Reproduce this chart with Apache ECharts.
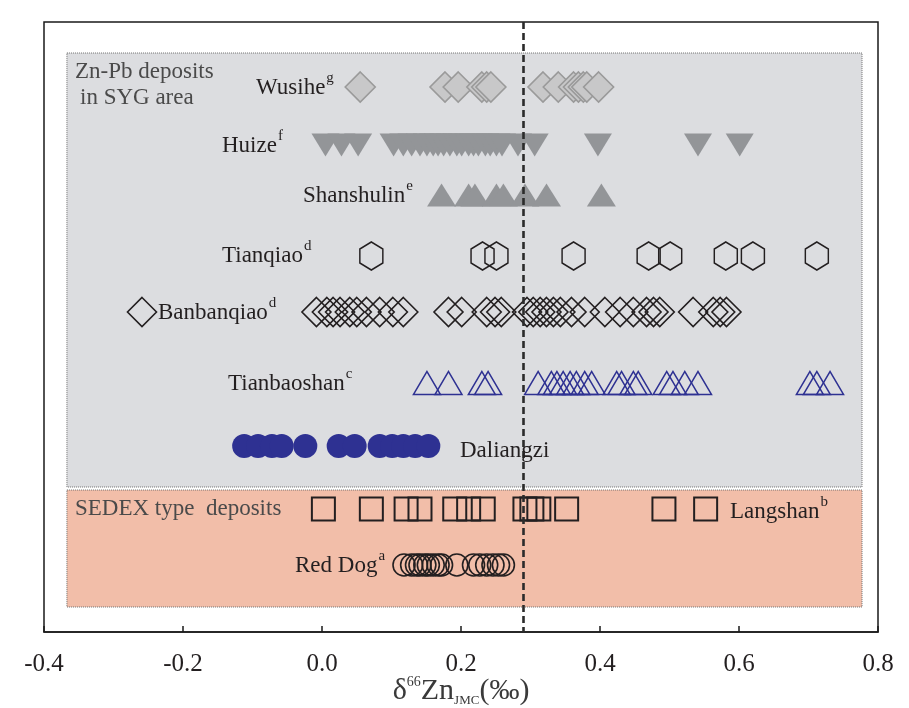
<!DOCTYPE html>
<html>
<head>
<meta charset="utf-8">
<script src="https://cdn.jsdelivr.net/npm/echarts@6/dist/echarts.min.js"></script>
<style>
  html, body { margin: 0; padding: 0; background: #ffffff; }
  #chart { width: 909px; height: 708px; }
</style>
</head>
<body>
<div id="chart"></div>
<script>
// δ66Zn values (‰, JMC) for each deposit
const wusihe = [0.055, 0.177, 0.196, 0.230, 0.237, 0.243, 0.318, 0.340, 0.362, 0.369, 0.376, 0.381, 0.398];
const huize = [0.005, 0.028, 0.052, 0.103, 0.117, 0.129, 0.141, 0.151, 0.160, 0.167, 0.175, 0.184, 0.194, 0.201,
  0.211, 0.218, 0.225, 0.235, 0.242, 0.251, 0.259, 0.282, 0.306, 0.397, 0.541, 0.601];
const shanshulin = [0.172, 0.211, 0.220, 0.251, 0.261, 0.292, 0.323, 0.402];
const tianqiao = [0.071, 0.231, 0.251, 0.362, 0.470, 0.501, 0.581, 0.620, 0.712];
const banbanqiao = [-0.259, -0.008, 0.007, 0.016, 0.026, 0.040, 0.050, 0.064, 0.083, 0.102, 0.117,
  0.182, 0.201, 0.237, 0.249, 0.258, 0.295, 0.304, 0.314, 0.323, 0.333, 0.343, 0.359, 0.378,
  0.407, 0.429, 0.448, 0.467, 0.477, 0.486, 0.534, 0.563, 0.573, 0.582];
const tianbaoshan = [0.151, 0.182, 0.230, 0.239, 0.311, 0.330, 0.338, 0.347, 0.357, 0.366, 0.378, 0.388,
  0.424, 0.431, 0.448, 0.455, 0.496, 0.505, 0.522, 0.541, 0.702, 0.712, 0.731];
const daliangzi = [-0.112, -0.092, -0.072, -0.058, -0.024, 0.024, 0.047, 0.083, 0.101, 0.117, 0.134, 0.153];
const langshan = [0.002, 0.071, 0.121, 0.141, 0.191, 0.211, 0.232, 0.292, 0.302, 0.312, 0.352, 0.492, 0.552];
const redDog = [0.118, 0.129, 0.136, 0.141, 0.148, 0.153, 0.160, 0.167, 0.172, 0.194, 0.218, 0.227,
  0.237, 0.246, 0.254, 0.261];

// reference value (dashed line) and x-axis ticks
const refValue = 0.292;
const xTicks = [-0.4, -0.2, 0.0, 0.2, 0.4, 0.6, 0.8];

// vertical layout: row levels on a hidden 0..610 axis (top = 0)
const rowLevel = {
  wusihe: 65, huize: 123, shanshulin: 173, tianqiao: 234, banbanqiao: 290,
  tianbaoshan: 361, daliangzi: 424, langshan: 487, redDog: 543
};
const groupBoxes = {
  syg: { x: [-0.367, 0.777], y: [31, 465], color: '#dcdde0' },
  sedex: { x: [-0.367, 0.777], y: [468, 585], color: '#f2bea9' }
};

const SERIF = '"Liberation Serif", "Times New Roman", serif';
const HEX = 'path://M10,0 L20,6 L20,18 L10,24 L0,18 L0,6 Z';

function row(values, level) {
  return values.map(v => [v, level]);
}

function scatter(name, values, level, symbol, size, style, extra) {
  return Object.assign({
    name: name,
    type: 'scatter',
    data: row(values, level),
    symbol: symbol,
    symbolSize: size,
    itemStyle: Object.assign({ opacity: 1 }, style),
    z: 3,
    silent: true,
    emphasis: { disabled: true }
  }, extra || {});
}

const outlineBlack = { color: 'rgba(0,0,0,0)', borderColor: '#231f20', borderWidth: 1.6 };

const series = [
  {
    type: 'scatter',
    data: [],
    z: 1,
    silent: true,
    markArea: {
      silent: true,
      data: Object.values(groupBoxes).map(b => [
        { xAxis: b.x[0], yAxis: b.y[0], itemStyle: { color: b.color, opacity: 1, borderColor: '#6d6d6d', borderWidth: 1, borderType: [1, 1] } },
        { xAxis: b.x[1], yAxis: b.y[1] }
      ])
    }
  },
  scatter('Wusihe', wusihe, rowLevel.wusihe, 'diamond', 30,
    { color: '#c8c8c9', borderColor: '#9a9a9a', borderWidth: 1.6 }),
  scatter('Huize', huize, rowLevel.huize, 'triangle', [28, 23],
    { color: '#939598' }, { symbolRotate: 180 }),
  scatter('Shanshulin', shanshulin, rowLevel.shanshulin, 'triangle', [29, 23],
    { color: '#939598' }),
  scatter('Tianqiao', tianqiao, rowLevel.tianqiao, HEX, [23, 28], outlineBlack),
  scatter('Banbanqiao', banbanqiao, rowLevel.banbanqiao, 'diamond', 29, outlineBlack),
  scatter('Tianbaoshan', tianbaoshan, rowLevel.tianbaoshan, 'triangle', [27, 23],
    { color: 'rgba(0,0,0,0)', borderColor: '#2e3192', borderWidth: 1.5 }),
  scatter('Daliangzi', daliangzi, rowLevel.daliangzi, 'circle', 24,
    { color: '#2e3192' }),
  scatter('Langshan', langshan, rowLevel.langshan, 'rect', 23,
    { color: 'rgba(0,0,0,0)', borderColor: '#231f20', borderWidth: 2 }),
  scatter('Red Dog', redDog, rowLevel.redDog, 'circle', 22, outlineBlack),
  {
    type: 'scatter',
    data: [],
    z: 5,
    silent: true,
    markLine: {
      silent: true,
      symbol: 'none',
      label: { show: false },
      lineStyle: { color: '#2b2b2b', width: 2.6, type: [7, 4] },
      data: [{ xAxis: refValue }]
    }
  }
];

// text measurement for placing superscripts right after a name
const measureCtx = document.createElement('canvas').getContext('2d');
function textWidth(text, size) {
  measureCtx.font = size + 'px ' + SERIF;
  return measureCtx.measureText(text).width;
}

const LABEL_SIZE = 23;
const SUP_SIZE = 15;
function label(text, sup, x, y, color) {
  const c = color || '#231f20';
  const items = [{
    type: 'text', x: x, y: y, z: 10, silent: true,
    style: { text: text, fontFamily: SERIF, fontSize: LABEL_SIZE, fill: c, align: 'left', verticalAlign: 'middle' }
  }];
  if (sup) {
    items.push({
      type: 'text', x: x + textWidth(text, LABEL_SIZE) + 1, y: y - 10, z: 10, silent: true,
      style: { text: sup, fontFamily: SERIF, fontSize: SUP_SIZE, fill: c, align: 'left', verticalAlign: 'middle' }
    });
  }
  return items;
}

const chart = echarts.init(document.getElementById('chart'), null, { renderer: 'canvas' });

chart.setOption({
  animation: false,
  backgroundColor: '#ffffff',
  grid: {
    left: 44, right: 31, top: 22, bottom: 76,
    outerBoundsMode: 'none',
    containLabel: false,
    show: true, borderColor: '#1a1a1a', borderWidth: 1.5, backgroundColor: 'transparent'
  },
  xAxis: {
    type: 'value',
    min: xTicks[0], max: xTicks[xTicks.length - 1], interval: 0.2,
    axisLine: { show: true, onZero: false, lineStyle: { color: '#1a1a1a', width: 1.5 } },
    axisTick: { show: true, inside: true, length: 6, lineStyle: { color: '#1a1a1a', width: 1.5 } },
    splitLine: { show: false },
    axisLabel: {
      margin: 20, color: '#231f20', fontFamily: SERIF, fontSize: 25,
      formatter: v => v.toFixed(1)
    },
    name: '{a|δ}{sup|66}{a|Zn}{sub|JMC}{a|(‰)}',
    nameLocation: 'middle',
    nameGap: 43,
    nameMoveOverlap: false,
    nameTextStyle: {
      rich: {
        a: { fontFamily: SERIF, fontSize: 30, color: '#3a3a3a', lineHeight: 32 },
        sup: { fontFamily: SERIF, fontSize: 14, color: '#3a3a3a', verticalAlign: 'top', lineHeight: 30 },
        sub: { fontFamily: SERIF, fontSize: 13, color: '#3a3a3a', verticalAlign: 'bottom', lineHeight: 26 }
      }
    }
  },
  yAxis: {
    type: 'value', min: 0, max: 610, inverse: true, show: false
  },
  series: series,
  graphic: [].concat(
    label('Zn-Pb deposits', null, 75, 72, '#4a4a4a'),
    label('in SYG area', null, 80, 98, '#4a4a4a'),
    label('Wusihe', 'g', 256, 88),
    label('Huize', 'f', 222, 146),
    label('Shanshulin', 'e', 303, 196),
    label('Tianqiao', 'd', 222, 256),
    label('Banbanqiao', 'd', 158, 313),
    label('Tianbaoshan', 'c', 228, 384),
    label('Daliangzi', null, 460, 451),
    label('SEDEX type  deposits', null, 75, 509, '#4a4a4a'),
    label('Langshan', 'b', 730, 512),
    label('Red Dog', 'a', 295, 566)
  )
});
</script>
</body>
</html>
